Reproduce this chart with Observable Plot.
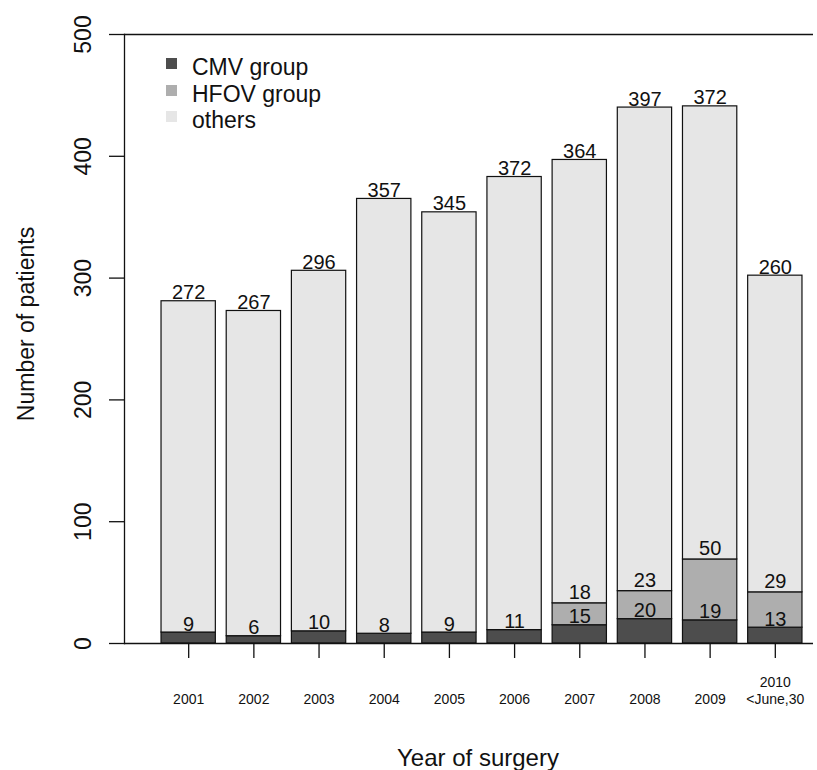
<!DOCTYPE html>
<html>
<head>
<meta charset="utf-8">
<script src="https://cdn.jsdelivr.net/npm/d3@7"></script>
<script src="https://cdn.jsdelivr.net/npm/@observablehq/plot@0.6"></script>
<style>
  html, body { margin: 0; padding: 0; background: #fff; }
  #wrap { position: relative; width: 817px; height: 770px; font-family: "Liberation Sans", Arial, Helvetica, sans-serif; }
  .lg-row { position: absolute; left: 192px; height: 26.5px; line-height: 26.5px; font-size: 23px; color: #111; white-space: nowrap; }
  .lg-sw { position: absolute; left: 166px; width: 11px; height: 11px; }
</style>
</head>
<body>
<div id="wrap"></div>
<script>
const years = ["2001", "2002", "2003", "2004", "2005", "2006", "2007", "2008", "2009", "2010\n<June,30"];
const cmv = [9, 6, 10, 8, 9, 11, 15, 20, 19, 13];
const hfov = [0, 0, 0, 0, 0, 0, 18, 23, 50, 29];
const others = [272, 267, 296, 357, 345, 372, 364, 397, 372, 260];
const groups = ["CMV group", "HFOV group", "others"];
const colors = ["#4d4d4d", "#aeaeae", "#e6e6e6"];
const yTicks = [0, 100, 200, 300, 400, 500];

const seriesVals = [cmv, hfov, others];
const long = [];
years.forEach((yr, i) => {
  groups.forEach((g, j) => {
    if (seriesVals[j][i] > 0) long.push({year: yr, group: g, value: seriesVals[j][i]});
  });
});
const perYear = years.map((yr, i) => ({
  year: yr, cmv: cmv[i], hfov: hfov[i], others: others[i],
  cmvTop: cmv[i], hfovTop: cmv[i] + hfov[i], total: cmv[i] + hfov[i] + others[i]
}));

const font = "'Liberation Sans', Arial, Helvetica, sans-serif";

const chart = Plot.plot({
  width: 817,
  height: 770,
  marginLeft: 124,
  marginRight: 4,
  marginTop: 34,
  marginBottom: 127,
  style: {fontFamily: font, color: "#111", background: "white", overflow: "visible"},
  x: {type: "band", domain: years, range: [155.6, 807.4], paddingInner: 0.1667, paddingOuter: 0.0833, round: false, label: null},
  y: {domain: [0, 500], label: null},
  color: {domain: groups, range: colors},
  marks: [
    Plot.barY(long, {x: "year", y: "value", fill: "group", stroke: "#111", strokeWidth: 1.2}),
    Plot.frame({anchor: "left", stroke: "#111", strokeWidth: 1.3}),
    Plot.ruleY([0, 500], {stroke: "#111", strokeWidth: 1.3}),
    Plot.axisY({ticks: yTicks, tickSize: 15, text: null, strokeWidth: 1.3, label: null}),
    Plot.axisY({ticks: yTicks, tickSize: 0, tickPadding: 34, rotate: -90, textAnchor: "middle", lineAnchor: "bottom", fontSize: 23, label: null}),
    Plot.axisX({tickSize: 15, tickPadding: 45, lineAnchor: "bottom", fontSize: 14, lineHeight: 1.15, strokeWidth: 1.3, label: null}),
    Plot.text(perYear, {x: "year", y: "cmvTop", text: d => String(d.cmv), lineAnchor: "bottom", dy: -2, fontSize: 20, fill: "#111"}),
    Plot.text(perYear.filter(d => d.hfov > 0), {x: "year", y: "hfovTop", text: d => String(d.hfov), lineAnchor: "bottom", dy: -4, fontSize: 20, fill: "#111"}),
    Plot.text(perYear, {x: "year", y: "total", text: d => String(d.others), lineAnchor: "bottom", dy: -2, fontSize: 20, fill: "#111"}),
    Plot.text(["Number of patients"], {frameAnchor: "left", rotate: -90, lineAnchor: "bottom", textAnchor: "middle", dx: -91, dy: -15, fontSize: 23, fill: "#111"}),
    Plot.text(["Year of surgery"], {frameAnchor: "bottom", lineAnchor: "bottom", textAnchor: "middle", dx: 9, dy: 122, fontSize: 24, fill: "#111"})
  ]
});

const wrap = document.getElementById("wrap");
wrap.appendChild(chart);

groups.forEach((g, i) => {
  const sw = document.createElement("div");
  sw.className = "lg-sw";
  sw.style.top = (58 + 26.5 * i) + "px";
  sw.style.background = colors[i];
  wrap.appendChild(sw);
  const row = document.createElement("div");
  row.className = "lg-row";
  row.style.top = (54 + 26.5 * i) + "px";
  row.textContent = g;
  wrap.appendChild(row);
});
</script>
</body>
</html>
